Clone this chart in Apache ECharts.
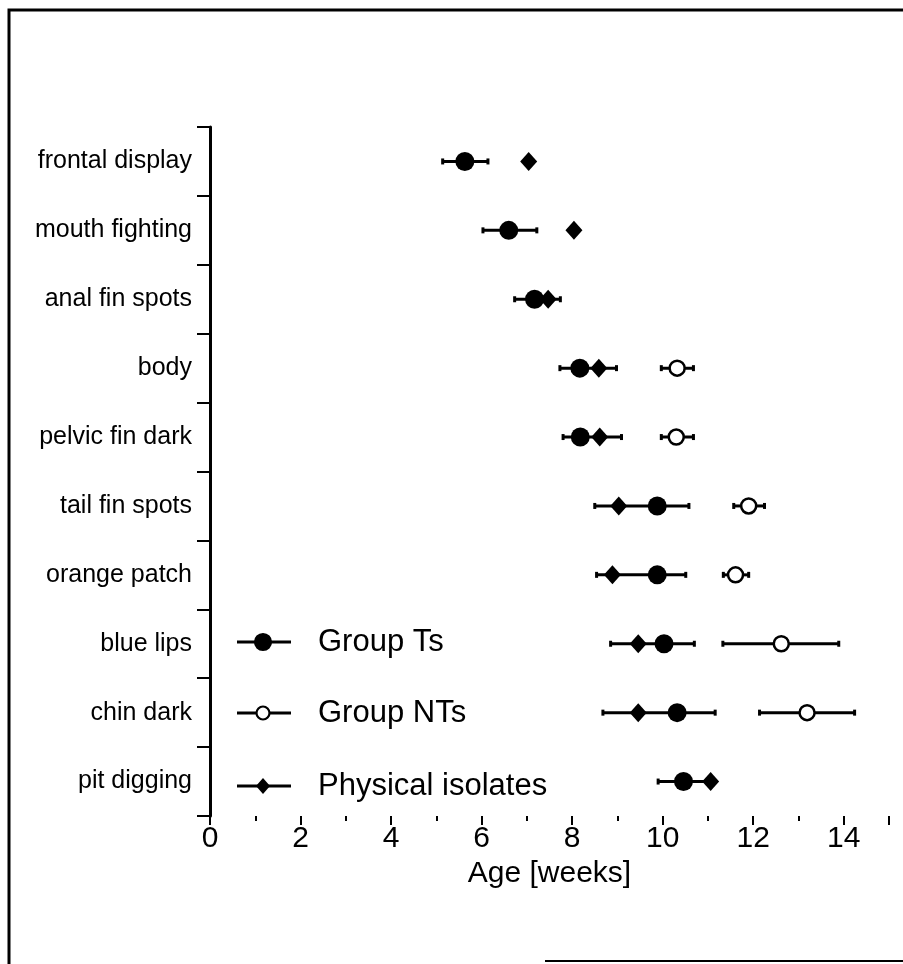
<!DOCTYPE html>
<html>
<head>
<meta charset="utf-8">
<script src="https://cdn.jsdelivr.net/npm/echarts@6/dist/echarts.min.js"></script>
<style>
  html, body { margin: 0; padding: 0; background: #fff; }
  #chart { width: 903px; height: 964px; }
</style>
</head>
<body>
<div id="chart"></div>
<script>
// 행동 항목 (위에서 아래로)
const categories = ['frontal display', 'mouth fighting', 'anal fin spots', 'body', 'pelvic fin dark',
  'tail fin spots', 'orange patch', 'blue lips', 'chin dark', 'pit digging'];

// Group Ts (평균, 오차 범위)
const tsMean = [5.63, 6.60, 7.17, 8.17, 8.18, 9.88, 9.88, 10.03, 10.32, 10.46];
const tsLow = [5.14, 6.03, 6.73, 7.73, 7.80, 8.50, 8.54, 8.85, 8.68, 9.90];
const tsHigh = [6.14, 7.22, 7.74, 8.98, 9.09, 10.58, 10.51, 10.70, 11.16, 11.00];

// Group NTs
const ntMean = [null, null, null, 10.32, 10.30, 11.90, 11.61, 12.62, 13.19, null];
const ntLow = [null, null, null, 9.97, 9.97, 11.57, 11.34, 11.33, 12.14, null];
const ntHigh = [null, null, null, 10.68, 10.68, 12.25, 11.90, 13.89, 14.24, null];

// Physical isolates
const isoMean = [7.04, 8.04, 7.47, 8.59, 8.61, 9.03, 8.89, 9.46, 9.46, 11.06];

const xTicks = [0, 2, 4, 6, 8, 10, 12, 14];

const FONT = '"Liberation Sans", Arial, Helvetica, sans-serif';

function toPoints(values) {
  return values.map(function (v, i) {
    return v === null ? null : [v, i];
  }).filter(function (item) {
    return item !== null;
  });
}

function toRanges(low, high) {
  return low.map(function (v, i) {
    return v === null ? null : [v, high[i], i];
  }).filter(function (item) {
    return item !== null;
  });
}

function renderErrorBar(params, api) {
  const lo = api.coord([api.value(0), api.value(2)]);
  const hi = api.coord([api.value(1), api.value(2)]);
  const cap = 3;
  const style = { stroke: '#000', lineWidth: 3 };
  return {
    type: 'group',
    children: [
      { type: 'line', shape: { x1: lo[0], y1: lo[1], x2: hi[0], y2: hi[1] }, style: style },
      { type: 'line', shape: { x1: lo[0], y1: lo[1] - cap, x2: lo[0], y2: lo[1] + cap }, style: style },
      { type: 'line', shape: { x1: hi[0], y1: hi[1] - cap, x2: hi[0], y2: hi[1] + cap }, style: style }
    ]
  };
}

// 범례 (선 + 기호 + 글자)
function legendItem(y, symbol, fill, label) {
  const sym = symbol === 'diamond'
    ? { type: 'polygon', shape: { points: [[263, y - 8], [270, y], [263, y + 8], [256, y]] }, style: { fill: '#000' } }
    : { type: 'circle', shape: { cx: 263, cy: y, r: symbol === 'open' ? 6.5 : 8 },
        style: { fill: fill, stroke: '#000', lineWidth: 2.2 } };
  return [
    { type: 'line', shape: { x1: 237, y1: y, x2: 291, y2: y }, style: { stroke: '#000', lineWidth: 3 } },
    sym,
    { type: 'text', x: 318, y: y, style: { text: label, font: '31px ' + FONT, fill: '#000', verticalAlign: 'middle' } }
  ];
}

const chart = echarts.init(document.getElementById('chart'));

chart.setOption({
  animation: false,
  backgroundColor: '#fff',
  grid: { left: 210, top: 127, right: 14, bottom: 148, containLabel: false },
  xAxis: [
    {
      type: 'value', min: 0, max: 15, interval: 2,
      name: 'Age [weeks]', nameLocation: 'middle', nameGap: 39,
      nameTextStyle: { fontSize: 30, fontFamily: FONT, color: '#000' },
      axisLine: { lineStyle: { color: '#000', width: 3 } },
      axisTick: { show: true, length: 9, lineStyle: { color: '#000', width: 2 } },
      axisLabel: {
        fontSize: 30, fontFamily: FONT, color: '#000', margin: 8,
        formatter: function (v) { return xTicks.indexOf(v) >= 0 ? String(v) : ''; }
      },
      splitLine: { show: false }
    },
    {
      type: 'value', min: 0, max: 15, interval: 1, position: 'bottom',
      axisLine: { show: false },
      axisTick: { show: true, length: 5, lineStyle: { color: '#000', width: 2 } },
      axisLabel: { show: false },
      splitLine: { show: false }
    }
  ],
  yAxis: {
    type: 'category', data: categories, inverse: true,
    axisLine: { lineStyle: { color: '#000', width: 3 } },
    axisTick: { show: true, length: 13, lineStyle: { color: '#000', width: 2 } },
    axisLabel: { fontSize: 25, fontFamily: FONT, color: '#000', margin: 18 },
    splitLine: { show: false }
  },
  series: [
    {
      name: 'Ts error', type: 'custom', renderItem: renderErrorBar,
      encode: { x: [0, 1], y: 2 }, data: toRanges(tsLow, tsHigh), z: 2
    },
    {
      name: 'NTs error', type: 'custom', renderItem: renderErrorBar,
      encode: { x: [0, 1], y: 2 }, data: toRanges(ntLow, ntHigh), z: 2
    },
    {
      name: 'Group Ts', type: 'scatter', symbol: 'circle', symbolSize: 19,
      itemStyle: { color: '#000', opacity: 1 }, data: toPoints(tsMean), z: 4
    },
    {
      name: 'Group NTs', type: 'scatter', symbol: 'circle', symbolSize: 15,
      itemStyle: { color: '#fff', borderColor: '#000', borderWidth: 2.5, opacity: 1 }, data: toPoints(ntMean), z: 4
    },
    {
      name: 'Physical isolates', type: 'scatter', symbol: 'diamond', symbolSize: [17, 19],
      itemStyle: { color: '#000', opacity: 1 }, data: toPoints(isoMean), z: 3
    }
  ],
  graphic: [
    // 바깥 테두리
    { type: 'polyline', shape: { points: [[9, 964], [9, 10], [903, 10]] }, style: { stroke: '#000', lineWidth: 3, fill: null } },
    { type: 'line', shape: { x1: 545, y1: 961, x2: 903, y2: 961 }, style: { stroke: '#000', lineWidth: 2 } }
  ].concat(
    legendItem(642, 'filled', '#000', 'Group Ts'),
    legendItem(713, 'open', '#fff', 'Group NTs'),
    legendItem(786, 'diamond', '#000', 'Physical isolates')
  )
});

window.addEventListener('resize', function () {
  chart.resize();
});
</script>
</body>
</html>
